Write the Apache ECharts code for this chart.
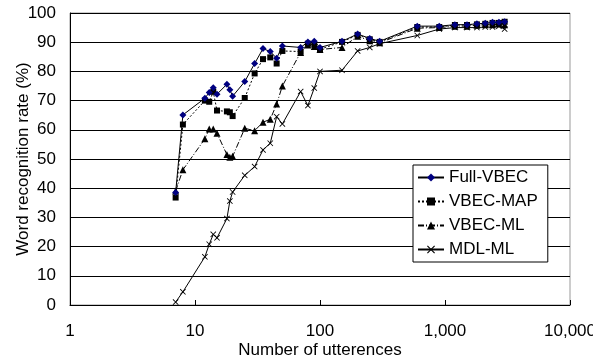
<!DOCTYPE html>
<html>
<head>
<meta charset="utf-8">
<script src="https://cdn.jsdelivr.net/npm/echarts@6/dist/echarts.min.js"></script>
<style>
  html, body { margin: 0; padding: 0; background: #fff; }
  #chart { width: 593px; height: 360px; }
</style>
</head>
<body>
<div id="chart"></div>
<script>
// number of utterences (x positions shared by every series)
var utterences = [7, 8, 12, 13, 14, 15, 18, 19, 20, 25, 30, 35, 40, 45, 50, 70, 80, 90, 100,
                  150, 200, 250, 300, 600, 900, 1200, 1500, 1800, 2100, 2400, 2700, 3000];

// word recognition rate (%)
var fullVbec = [38.5, 65.1, 70.8, 72.8, 74.4, 72.2, 75.6, 73.7, 71.5, 76.5, 82.7, 87.8, 86.8, 84.5, 88.7, 88.2, 90.1, 90.3, 88.2,
                90.3, 92.8, 91.3, 90.3, 95.5, 95.5, 96.0, 96.0, 96.3, 96.5, 96.8, 96.8, 97.0];
var vbecMap  = [36.8, 61.8, 70.0, 69.6, 73.0, 66.6, 66.3, 66.0, 64.7, 70.9, 79.3, 84.2, 84.8, 82.7, 87.0, 86.8, 89.5, 89.1, 87.6,
                90.1, 92.5, 91.0, 90.1, 95.2, 95.2, 95.9, 95.9, 96.1, 96.3, 96.6, 96.6, 97.0];
var vbecMl   = [39.0, 46.3, 56.9, 60.3, 60.3, 58.8, 51.5, 50.6, 50.9, 60.5, 59.7, 62.6, 63.6, 68.8, 75.0, 86.5, 89.0, 88.5, 87.5,
                88.2, 92.0, 90.5, 89.8, 94.8, 95.0, 95.5, 95.5, 95.8, 96.0, 96.0, 96.2, 96.0];
var mdlMl    = [1.0, 4.5, 16.5, 20.8, 24.2, 23.0, 29.6, 35.6, 38.7, 44.4, 47.4, 53.1, 55.4, 64.5, 62.0, 73.1, 68.3, 74.3, 80.0,
                80.4, 87.0, 88.2, 89.5, 92.3, 94.5, 95.0, 95.0, 95.0, 95.2, 95.2, 95.5, 94.5];

// axis ticks
var xTicks = [1, 10, 100, 1000, 10000];
var yTicks = [0, 10, 20, 30, 40, 50, 60, 70, 80, 90, 100];

var FONT = '"Liberation Sans", Arial, sans-serif';
var crossSymbol = 'path://M0,1L1,0L5,4L9,0L10,1L6,5L10,9L9,10L5,6L1,10L0,9L4,5Z';

function pairs(ys) {
	var out = [];
	for (var i = 0; i < ys.length; i++) {
		out.push([utterences[i], ys[i]]);
	}
	return out;
}

var myChart = echarts.init(document.getElementById('chart'), null, {renderer: 'canvas'});

var option = {
	animation: false,
	backgroundColor: '#fff',
	grid: {
		left: 70, right: 23, top: 13, bottom: 55,
		outerBoundsMode: 'none',
		containLabel: false,
		show: true,
		borderColor: '#999',
		borderWidth: 1
	},
	legend: {
		orient: 'vertical',
		left: 413,
		top: 165,
		backgroundColor: '#fff',
		borderColor: '#000',
		borderWidth: 1,
		padding: [4, 10, 4, 4],
		itemGap: 7,
		itemWidth: 26,
		itemHeight: 10,
		textStyle: {fontFamily: FONT, fontSize: 17, color: '#000'},
		data: ['Full-VBEC', 'VBEC-MAP', 'VBEC-ML', 'MDL-ML']
	},
	xAxis: {
		type: 'log',
		logBase: 10,
		min: xTicks[0],
		max: xTicks[xTicks.length - 1],
		name: 'Number of utterences',
		nameLocation: 'middle',
		nameGap: 37,
		nameMoveOverlap: false,
		nameTextStyle: {fontFamily: FONT, fontSize: 17, color: '#000'},
		axisLine: {lineStyle: {color: '#000', width: 1}},
		axisTick: {show: true, inside: true, length: 5, lineStyle: {color: '#000'}},
		minorTick: {show: false},
		splitLine: {show: false},
		axisLabel: {
			fontFamily: FONT, fontSize: 17, color: '#000', margin: 18,
			formatter: function (v) {
				var n = Math.round(v);
				return xTicks.indexOf(n) >= 0 ? n.toLocaleString('en-US') : '';
			}
		}
	},
	yAxis: {
		type: 'value',
		min: yTicks[0],
		max: yTicks[yTicks.length - 1],
		interval: 10,
		name: 'Word recognition rate (%)',
		nameLocation: 'middle',
		nameGap: 38,
		nameMoveOverlap: false,
		nameTextStyle: {fontFamily: FONT, fontSize: 17, color: '#000'},
		axisLine: {show: true, lineStyle: {color: '#000', width: 1}},
		axisTick: {show: false},
		splitLine: {lineStyle: {color: '#000', width: 1}},
		axisLabel: {fontFamily: FONT, fontSize: 17, color: '#000', margin: 14}
	},
	series: [
		{
			name: 'Full-VBEC',
			type: 'line',
			data: pairs(fullVbec),
			symbol: 'diamond',
			symbolSize: 7,
			itemStyle: {color: '#000080'},
			lineStyle: {color: '#000', width: 1},
			z: 5
		},
		{
			name: 'VBEC-MAP',
			type: 'line',
			data: pairs(vbecMap),
			symbol: 'rect',
			symbolSize: 6,
			itemStyle: {color: '#000'},
			lineStyle: {color: '#000', width: 1, type: [2, 2]},
			z: 4
		},
		{
			name: 'VBEC-ML',
			type: 'line',
			data: pairs(vbecMl),
			symbol: 'triangle',
			symbolSize: 7,
			itemStyle: {color: '#000'},
			lineStyle: {color: '#000', width: 1, type: [6, 2, 1, 2]},
			z: 3
		},
		{
			name: 'MDL-ML',
			type: 'line',
			data: pairs(mdlMl),
			symbol: crossSymbol,
			symbolSize: 6,
			itemStyle: {color: '#000'},
			lineStyle: {color: '#000', width: 1},
			z: 2
		}
	]
};

// 渲染
myChart.setOption(option);
</script>
</body>
</html>
